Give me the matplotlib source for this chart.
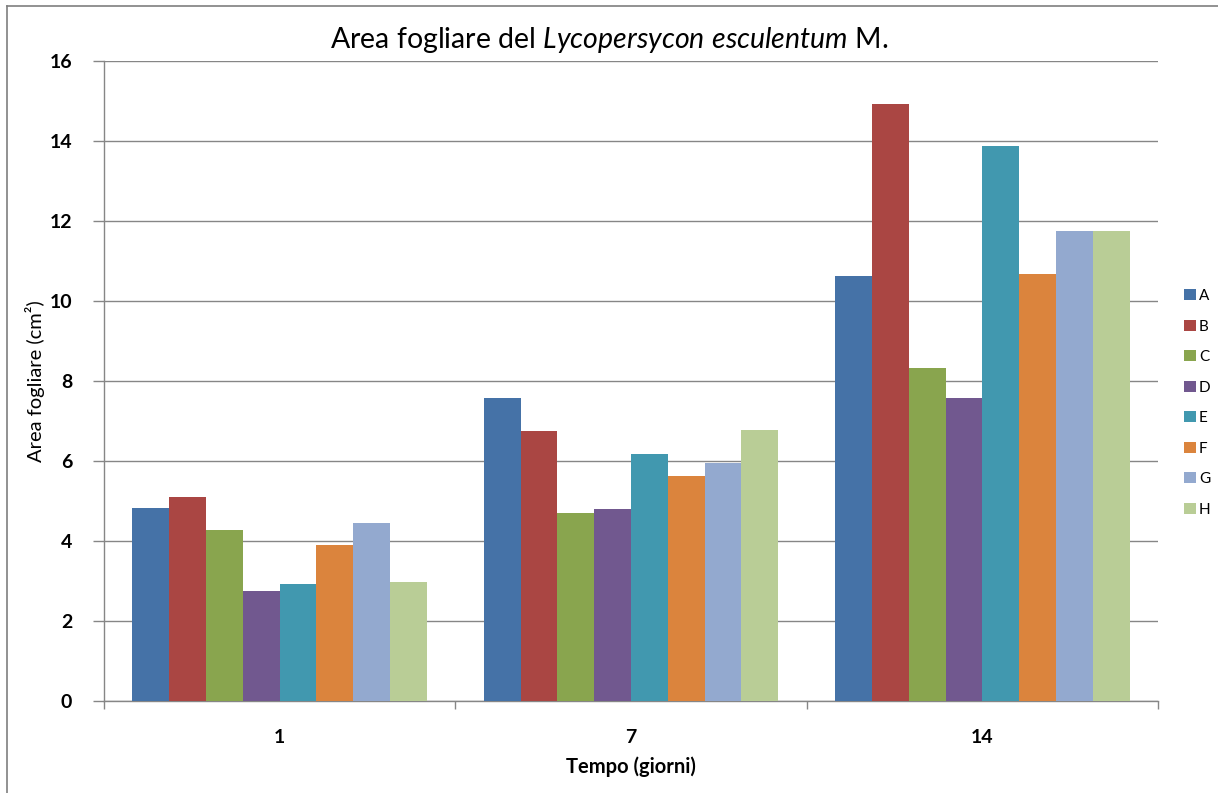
import numpy as np
import matplotlib
matplotlib.use("Agg")
import matplotlib.pyplot as plt
from matplotlib.lines import Line2D

plt.rcParams['font.family'] = ['Lato', 'DejaVu Sans']
plt.rcParams['mathtext.fontset'] = 'custom'
plt.rcParams['mathtext.rm'] = 'Lato'
plt.rcParams['mathtext.it'] = 'Lato:italic'

# giorni di misura e tesi
giorni = ['1', '7', '14']
tesi = ['A', 'B', 'C', 'D', 'E', 'F', 'G', 'H']

# area fogliare (cm2) per tesi, ai giorni 1, 7, 14
area_A = [4.82, 7.57, 10.62]
area_B = [5.10, 6.75, 14.93]
area_C = [4.28, 4.70, 8.33]
area_D = [2.75, 4.80, 7.57]
area_E = [2.93, 6.17, 13.87]
area_F = [3.90, 5.63, 10.67]
area_G = [4.45, 5.95, 11.75]
area_H = [2.97, 6.77, 11.75]
serie = [area_A, area_B, area_C, area_D, area_E, area_F, area_G, area_H]

colori = ['#4572A7', '#AA4643', '#89A54E', '#71588F',
          '#4198AF', '#DB843D', '#93A9CF', '#B9CD96']

fig = plt.figure(figsize=(12.18, 7.93), dpi=100)
ax = fig.add_axes([0.0854, 0.116, 0.8654, 0.807])

x = np.arange(len(giorni))
w = 0.838 / len(tesi)
for i, (vals, c, nome) in enumerate(zip(serie, colori, tesi)):
    ax.bar(x - 0.419 + w * (i + 0.5), vals, w, color=c, label=nome,
           zorder=3, linewidth=0)

ax.set_xlim(-0.5, 2.5)
ax.set_ylim(0, 16)
ax.set_yticks(np.arange(0, 17, 2))
ax.set_xticks(x)
ax.set_xticklabels(giorni, fontsize=14, fontweight='bold')
ax.set_xticks([-0.5, 0.5, 1.5, 2.5], minor=True)
ax.tick_params(axis='x', which='major', length=0, pad=20)
ax.tick_params(axis='x', which='minor', length=6, color='#868686', width=1)
ax.tick_params(axis='y', length=8, color='#868686', width=1, pad=15,
               labelsize=14)
for t in ax.get_yticklabels():
    t.set_fontweight('bold')

ax.yaxis.grid(True, color='#868686', linewidth=1)
ax.set_axisbelow(True)
for s in ['top', 'right']:
    ax.spines[s].set_visible(False)
for s in ['left', 'bottom']:
    ax.spines[s].set_color('#868686')
    ax.spines[s].set_linewidth(1)

ax.set_xlabel('Tempo (giorni)', fontsize=14.5, fontweight='bold', labelpad=8)
ax.set_ylabel('Area fogliare (cm²)', fontsize=14.5)
ax.yaxis.set_label_coords(-0.056, 0.5)

fig.text(0.5, 0.95, r'Area fogliare del $\mathit{Lycopersycon\ esculentum}$ M.',
         ha='center', va='center', fontsize=20.5)

ax.legend(loc='center left', bbox_to_anchor=(1.012, 0.466), frameon=False,
          handlelength=0.75, handleheight=0.75, handletextpad=0.2,
          labelspacing=1.08, fontsize=11)

# cornice del grafico
fig.add_artist(Line2D([0.0057, 0.0057], [0, 0.9924], color='#7f7f7f', lw=1.2))
fig.add_artist(Line2D([0.0057, 1.0], [0.9924, 0.9924], color='#7f7f7f', lw=1.2))

fig.savefig('out.png', dpi=100)
